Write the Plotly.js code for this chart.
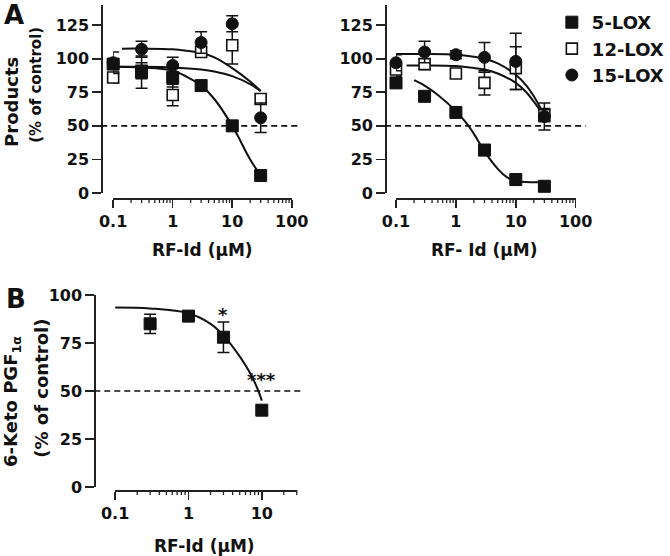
<!DOCTYPE html>
<html><head><meta charset="utf-8">
<script src="https://cdn.plot.ly/plotly-3.0.1.min.js"></script>
<style>html,body{margin:0;padding:0;background:#fff;}#chart{width:670px;height:556px;}</style>
</head><body><div id="chart"></div>
<script>
// ---------- data ----------
const conc = [0.1, 0.3, 1, 3, 10, 30];            // RF-Id (µM), panel A
const concB = [0.3, 1, 3, 10];                    // RF-Id (µM), panel B

// Panel A, left
const a1_5lox = [96, 90, 86, 80, 50, 13];
const a1_5lox_err = [4, 12, 7, 3, 2, 2];
const a1_12lox = [86, 91, 73, 105, 110, 70];
const a1_12lox_err = [4, 6, 8, 4, 14, 4];
const a1_15lox = [97, 107, 95, 112, 126, 56];
const a1_15lox_err = [8, 6, 6, 8, 6, 11];
// fitted curves, panel A left
const a1_fit5_x = [0.1, 0.3, 1, 2, 3, 5, 10, 20, 30];
const a1_fit5_y = [94, 93.5, 91, 85, 80, 70, 50, 25, 13];
const a1_fit12_x = [0.1, 0.3, 1, 3, 5, 10, 20, 30];
const a1_fit12_y = [94, 94, 93.5, 92, 90.5, 87, 81, 76];
const a1_fit15_x = [0.14, 0.3, 1, 2, 3, 5, 10, 20, 30];
const a1_fit15_y = [107.5, 107.5, 107, 105.5, 104.5, 101, 93, 83, 76];

// Panel A, right
const a2_5lox = [82, 72, 60, 32, 10, 5];
const a2_5lox_err = [3, 2, 2, 4, 2, 1];
const a2_12lox = [92, 96, 89, 82, 93, 58];
const a2_12lox_err = [5, 4, 3, 9, 16, 5];
const a2_15lox = [97, 105, 103, 101, 98, 57];
const a2_15lox_err = [6, 8, 3, 11, 21, 10];
const a2_fit5_x = [0.2, 0.3, 0.5, 1, 1.5, 2, 3, 5, 7, 10, 20, 30];
const a2_fit5_y = [84, 80, 73, 61, 52, 44, 31, 18, 12, 9, 8, 8];
const a2_fit12_x = [0.15, 0.3, 1, 2, 3, 5, 10, 15, 20, 30];
const a2_fit12_y = [95, 95, 94.5, 93, 92, 89, 82, 75, 68, 57];
const a2_fit15_x = [0.1, 0.3, 1, 2, 3, 5, 10, 15, 20, 30];
const a2_fit15_y = [103.5, 103.5, 103, 101.5, 100, 96.5, 88, 80, 72, 58];

// Panel B
const b_keto = [85, 89, 78, 40];
const b_keto_err = [5, 2, 8, 2];
const b_fit_x = [0.1, 0.3, 1, 2, 3, 5, 7, 9, 10];
const b_fit_y = [93.5, 93, 90.5, 85, 79, 68, 59, 50, 45];

// tick labels
const xTickValsA = [0.1, 1, 10, 100];
const xTickTextA = ['0.1', '1', '10', '100'];
const xTickValsB = [0.1, 1, 10];
const xTickTextB = ['0.1', '1', '10'];
const xMinorValsA = [0.2, 0.3, 0.4, 0.5, 0.6, 0.7, 0.8, 0.9, 2, 3, 4, 5, 6, 7, 8, 9, 20, 30, 40, 50, 60, 70, 80, 90];
const xMinorValsB = [0.2, 0.3, 0.4, 0.5, 0.6, 0.7, 0.8, 0.9, 2, 3, 4, 5, 6, 7, 8, 9, 20, 30];
const yTickValsA = [0, 25, 50, 75, 100, 125];
const yTickValsB = [0, 25, 50, 75, 100];
const seriesNames = ['5-LOX', '12-LOX', '15-LOX'];
const refLevel = 50;

// ---------- styling helpers ----------
const W = 670, H = 556;
const px = v => v / W;
const py = v => 1 - v / H;
const FAM = 'DejaVu Sans, Arial, sans-serif';
const INK = '#111';
const AX = '#222';

function errBar(arr) {
  return {type: 'data', array: arr, visible: true, color: INK, thickness: 1.5, width: 6};
}
function markerTrace(x, y, err, kind, xa, ya, name, showlegend, rank) {
  let marker;
  if (kind === 'fsq') marker = {symbol: 'square', size: 12, color: INK, line: {color: INK, width: 1}};
  else if (kind === 'osq') marker = {symbol: 'square', size: 11, color: '#fff', line: {color: INK, width: 1.6}};
  else marker = {symbol: 'circle', size: 12, color: INK, line: {color: INK, width: 1}};
  return {x, y, type: 'scatter', mode: 'markers', marker, error_y: errBar(err),
    xaxis: xa, yaxis: ya, name, showlegend, legendrank: rank, cliponaxis: false, hoverinfo: 'skip'};
}
function fitTrace(x, y, xa, ya) {
  return {x, y, type: 'scatter', mode: 'lines', line: {color: INK, width: 2, shape: 'spline', smoothing: 1},
    xaxis: xa, yaxis: ya, showlegend: false, cliponaxis: false, hoverinfo: 'skip'};
}
function xAxis(domain, pos, range, tv, tt) {
  return {type: 'log', domain, anchor: 'free', position: pos, range,
    tickmode: 'array', tickvals: tv, ticktext: tt, ticks: 'outside', ticklen: 8, tickwidth: 1.6, tickcolor: AX,
    showline: true, linecolor: AX, linewidth: 1.6, showgrid: false, zeroline: false,
    tickfont: {family: FAM, size: 16, color: INK, weight: 'bold'}, fixedrange: true};
}
function yAxis(domain, pos, range, tv) {
  return {domain, anchor: 'free', position: pos, range, tickmode: 'array', tickvals: tv,
    ticks: 'outside', ticklen: 9, tickwidth: 1.6, tickcolor: AX,
    showline: true, linecolor: AX, linewidth: 1.6, showgrid: false, zeroline: false,
    tickfont: {family: FAM, size: 16, color: INK, weight: 'bold'}, fixedrange: true};
}
// minor tick marks under the offset log x axes (placed in that axis' domain space, unclipped)
function minorTicks(vals, axId, range, axisY) {
  return vals.map(v => {
    const f = (Math.log10(v) - range[0]) / (range[1] - range[0]);
    return {type: 'line', xref: axId + ' domain', yref: 'paper', x0: f, x1: f,
      y0: py(axisY), y1: py(axisY + 5), line: {color: AX, width: 1.3}};
  });
}

const traces = [
  fitTrace(a1_fit5_x, a1_fit5_y, 'x', 'y'),
  fitTrace(a1_fit12_x, a1_fit12_y, 'x', 'y'),
  fitTrace(a1_fit15_x, a1_fit15_y, 'x', 'y'),
  markerTrace(conc, a1_12lox, a1_12lox_err, 'osq', 'x', 'y', seriesNames[1], false, 2),
  markerTrace(conc, a1_15lox, a1_15lox_err, 'circ', 'x', 'y', seriesNames[2], false, 3),
  markerTrace(conc, a1_5lox, a1_5lox_err, 'fsq', 'x', 'y', seriesNames[0], false, 1),

  fitTrace(a2_fit5_x, a2_fit5_y, 'x2', 'y2'),
  fitTrace(a2_fit12_x, a2_fit12_y, 'x2', 'y2'),
  fitTrace(a2_fit15_x, a2_fit15_y, 'x2', 'y2'),
  markerTrace(conc, a2_12lox, a2_12lox_err, 'osq', 'x2', 'y2', seriesNames[1], true, 2),
  markerTrace(conc, a2_15lox, a2_15lox_err, 'circ', 'x2', 'y2', seriesNames[2], true, 3),
  markerTrace(conc, a2_5lox, a2_5lox_err, 'fsq', 'x2', 'y2', seriesNames[0], true, 1),

  fitTrace(b_fit_x, b_fit_y, 'x3', 'y3'),
  markerTrace(concB, b_keto, b_keto_err, 'fsq', 'x3', 'y3', '6-Keto PGF1α', false, 4)
];

const dash = (x0, x1, yref) => ({type: 'line', xref: 'paper', yref, x0: px(x0), x1: px(x1), y0: refLevel, y1: refLevel,
  line: {color: INK, width: 1.7, dash: '6px,4px'}});

function ann(text, x, y, size, angle, extra) {
  return Object.assign({text, xref: 'paper', yref: 'paper', x: px(x), y: py(y), showarrow: false,
    xanchor: 'center', yanchor: 'middle', textangle: angle || 0,
    font: {family: FAM, size, color: INK, weight: 'bold'}}, extra || {});
}

const dA1 = [px(114), px(294)], dA2 = [px(399), px(580)], dB = [px(116), px(299)];
const rA = [-1, 2], rB = [-1, Math.log10(30)];

const layout = {
  width: W, height: H, margin: {l: 0, r: 0, t: 0, b: 0},
  paper_bgcolor: '#fff', plot_bgcolor: 'rgba(0,0,0,0)',
  font: {family: FAM, color: INK},
  showlegend: true,
  legend: {x: px(556), y: py(4), xanchor: 'left', yanchor: 'top', bgcolor: 'rgba(0,0,0,0)',
    font: {family: FAM, size: 18, color: INK, weight: 'bold'}, itemwidth: 30, tracegroupgap: 0},
  xaxis: xAxis(dA1, py(198), rA, xTickValsA, xTickTextA),
  yaxis: yAxis([py(193), py(5)], px(102), [0, 140], yTickValsA),
  xaxis2: xAxis(dA2, py(198), rA, xTickValsA, xTickTextA),
  yaxis2: yAxis([py(193), py(5)], px(388), [0, 140], yTickValsA),
  xaxis3: xAxis(dB, py(490), rB, xTickValsB, xTickTextB),
  yaxis3: yAxis([py(487), py(295)], px(95), [0, 100], yTickValsB),
  shapes: [dash(102, 302, 'y'), dash(388, 590, 'y2'), dash(95, 303, 'y3')]
    .concat(minorTicks(xMinorValsA, 'x', rA, 198))
    .concat(minorTicks(xMinorValsA, 'x2', rA, 198))
    .concat(minorTicks(xMinorValsB, 'x3', rB, 490)),
  annotations: [
    ann('A', 14, 15, 26),
    ann('B', 16, 299, 26),
    ann('Products', 12, 102, 18, -90),
    ann('(% of control)', 36, 85, 15, -90),
    ann('RF-Id (µM)', 204, 250, 17),
    ann('RF- Id (µM)', 488, 250, 17),
    ann('6-Keto PGF<sub>1α</sub>', 12, 401, 18, -90),
    ann('(% of control)', 41, 388, 18, -90),
    ann('RF-Id (µM)', 206, 546, 17),
    {text: '*', xref: 'x3', yref: 'y3', x: Math.log10(concB[2]), y: 90, showarrow: false,
      font: {family: FAM, size: 18, color: INK, weight: 'bold'}},
    {text: '***', xref: 'x3', yref: 'y3', x: Math.log10(concB[3]), y: 56, showarrow: false,
      font: {family: FAM, size: 18, color: INK, weight: 'bold'}}
  ]
};

Plotly.newPlot('chart', traces, layout, {displayModeBar: false, staticPlot: true});
</script>
</body></html>
